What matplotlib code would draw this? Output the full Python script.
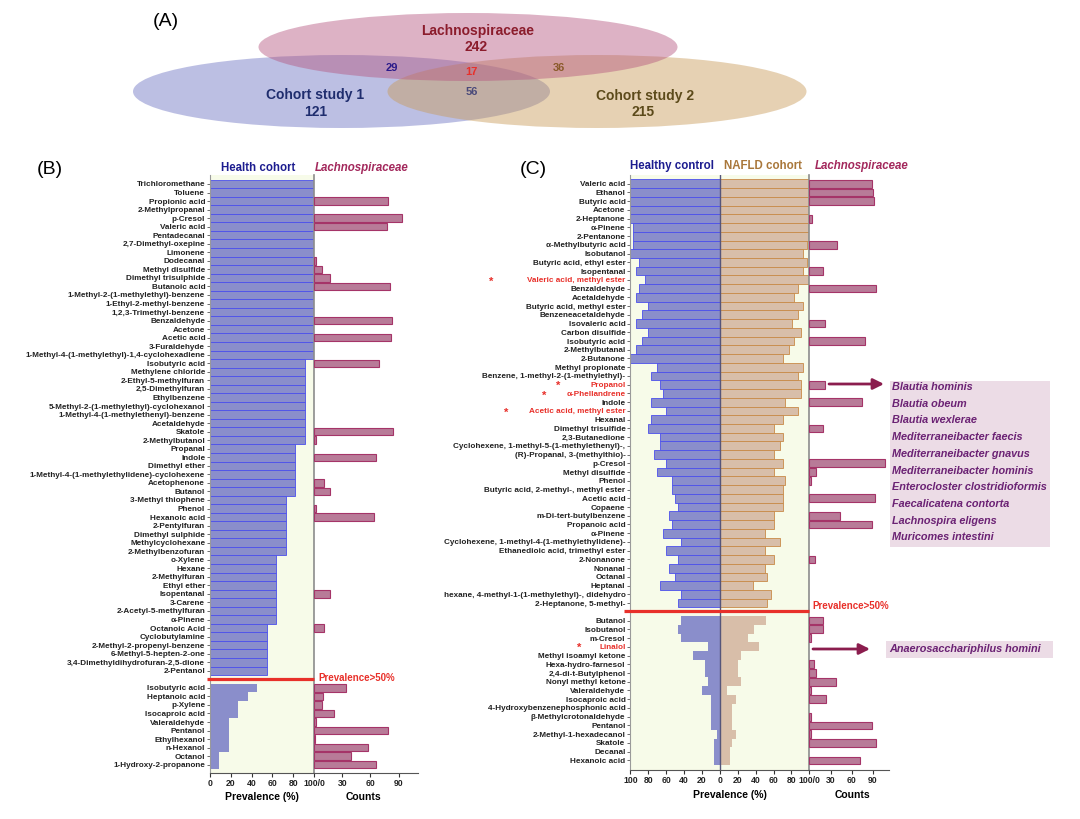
import matplotlib
matplotlib.use('Agg')
import matplotlib.pyplot as plt
from matplotlib.patches import Ellipse, Rectangle, FancyArrowPatch

plt.rcParams['font.family'] = ['Liberation Sans', 'DejaVu Sans']
plt.rcParams['font.weight'] = 'bold'

W, H = 1080, 819

# ---------------- Panel A (Venn) ----------------
venn_sets = ['Lachnospiraceae', 'Cohort study 1', 'Cohort study 2']
venn_totals = [242, 121, 215]
venn_overlaps = {'L&C1': 29, 'L&C2': 36, 'C1&C2': 56, 'all': 17}

# ---------------- Panel B ----------------
b_names_hi = ['Trichloromethane', 'Toluene', 'Propionic acid', '2-Methylpropanal', 'p-Cresol',
              'Valeric acid', 'Pentadecanal', '2,7-Dimethyl-oxepine', 'Limonene', 'Dodecanal',
              'Methyl disulfide', 'Dimethyl trisulphide', 'Butanoic acid',
              '1-Methyl-2-(1-methylethyl)-benzene', '1-Ethyl-2-methyl-benzene',
              '1,2,3-Trimethyl-benzene', 'Benzaldehyde', 'Acetone', 'Acetic acid', '3-Furaldehyde',
              '1-Methyl-4-(1-methylethyl)-1,4-cyclohexadiene', 'Isobutyric acid',
              'Methylene chloride', '2-Ethyl-5-methylfuran', '2,5-Dimethylfuran', 'Ethylbenzene',
              '5-Methyl-2-(1-methylethyl)-cyclohexanol', '1-Methyl-4-(1-methylethenyl)-benzene',
              'Acetaldehyde', 'Skatole', '2-Methylbutanol', 'Propanal', 'Indole', 'Dimethyl ether',
              '1-Methyl-4-(1-methylethylidene)-cyclohexene', 'Acetophenone', 'Butanol',
              '3-Methyl thiophene', 'Phenol', 'Hexanoic acid', '2-Pentylfuran', 'Dimethyl sulphide',
              'Methylcyclohexane', '2-Methylbenzofuran', 'o-Xylene', 'Hexane', '2-Methylfuran',
              'Ethyl ether', 'Isopentanal', '3-Carene', '2-Acetyl-5-methylfuran', 'α-Pinene',
              'Octanoic Acid', 'Cyclobutylamine', '2-Methyl-2-propenyl-benzene',
              '6-Methyl-5-hepten-2-one', '3,4-Dimethyldihydrofuran-2,5-dione', '2-Pentanol']
b_prev_hi = [100, 100, 100, 100, 100, 100, 100, 100, 100, 100, 100, 100, 100, 100, 100, 100,
             100, 100, 100, 100, 100,
             90.9, 90.9, 90.9, 90.9, 90.9, 90.9, 90.9, 90.9, 90.9, 90.9,
             81.8, 81.8, 81.8, 81.8, 81.8, 81.8,
             72.7, 72.7, 72.7, 72.7, 72.7, 72.7, 72.7,
             63.6, 63.6, 63.6, 63.6, 63.6, 63.6, 63.6, 63.6,
             54.5, 54.5, 54.5, 54.5, 54.5, 54.5]
b_cnt_hi = [0, 0, 79, 0, 94, 78, 0, 0, 0, 2, 9, 17, 81, 0, 0, 0, 83, 0, 82, 0, 0,
            69, 0, 0, 0, 0, 0, 0, 0, 84, 2, 0, 66, 0, 0, 11, 17, 0, 2, 64,
            0, 0, 0, 0, 0, 0, 0, 0, 17, 0, 0, 0, 11, 0, 0, 0, 0, 0]
b_names_lo = ['Isobutyric acid', 'Heptanoic acid', 'p-Xylene', 'Isocaproic acid', 'Valeraldehyde',
              'Pentanol', 'Ethylhexanol', 'n-Hexanol', 'Octanol', '1-Hydroxy-2-propanone']
b_prev_lo = [45.5, 36.4, 27.3, 27.3, 18.2, 18.2, 18.2, 18.2, 9.1, 9.1]
b_cnt_lo = [34, 10, 9, 21, 2, 79, 1, 57, 39, 66]

# ---------------- Panel C ----------------
c_names_hi = ['Valeric acid', 'Ethanol', 'Butyric acid', 'Acetone', '2-Heptanone', 'α-Pinene',
              '2-Pentanone', 'α-Methylbutyric acid', 'Isobutanol', 'Butyric acid, ethyl ester',
              'Isopentanal', 'Valeric acid, methyl ester', 'Benzaldehyde', 'Acetaldehyde',
              'Butyric acid, methyl ester', 'Benzeneacetaldehyde', 'Isovaleric acid',
              'Carbon disulfide', 'Isobutyric acid', '2-Methylbutanal', '2-Butanone',
              'Methyl propionate', 'Benzene, 1-methyl-2-(1-methylethyl)-', 'Propanol',
              'α-Phellandrene', 'Indole', 'Acetic acid, methyl ester', 'Hexanal',
              'Dimethyl trisulfide', '2,3-Butanedione',
              'Cyclohexene, 1-methyl-5-(1-methylethenyl)-,', '(R)-Propanal, 3-(methylthio)-',
              'p-Cresol', 'Methyl disulfide', 'Phenol', 'Butyric acid, 2-methyl-, methyl ester',
              'Acetic acid', 'Copaene', 'm-Di-tert-butylbenzene', 'Propanoic acid', 'α-Pinene',
              'Cyclohexene, 1-methyl-4-(1-methylethylidene)-', 'Ethanedioic acid, trimethyl ester',
              '2-Nonanone', 'Nonanal', 'Octanal', 'Heptanal',
              'hexane, 4-methyl-1-(1-methylethyl)-, didehydro', '2-Heptanone, 5-methyl-']
c_healthy_hi = [100, 100, 100, 100, 100, 96.7, 96.7, 96.7, 100, 90, 93.3, 83.3, 90, 93.3, 80,
                86.7, 93.3, 80, 86.7, 93.3, 100, 70, 76.7, 66.7, 63.3, 76.7, 60, 76.7, 80,
                66.7, 66.7, 73.3, 60, 70, 53.3, 53.3, 50, 46.7, 56.7, 53.3, 63.3, 43.3, 60,
                46.7, 56.7, 50, 66.7, 43.3, 46.7]
c_nafld_hi = [100, 100, 100, 100, 100, 100, 100, 97.8, 93.3, 97.8, 93.3, 100, 87.6, 83, 93.3,
              87.6, 80.9, 90.6, 83, 77.5, 70.8, 93.3, 87.6, 90.6, 90.6, 73, 87.6, 70.8, 60.3,
              70.8, 67.4, 60.3, 70.8, 60.3, 73, 70.8, 70.8, 70.8, 60.3, 60.3, 50.2, 67.4, 50.2,
              60.3, 50.2, 53.2, 37.5, 57.7, 53.2]
c_cnt_hi = [88, 90, 91, 0, 4, 0, 0, 39, 0, 0, 19, 0, 94, 0, 0, 0, 22, 0, 78, 0, 0, 0, 0, 22, 0,
            74, 0, 0, 19, 0, 0, 0, 107, 9, 2, 0, 93, 0, 44, 89, 0, 0, 0, 8, 0, 0, 0, 0, 0]
c_names_lo = ['Butanol', 'Isobutanol', 'm-Cresol', 'Linalol', 'Methyl isoamyl ketone',
              'Hexa-hydro-farnesol', '2,4-di-t-Butylphenol', 'Nonyl methyl ketone',
              'Valeraldehyde', 'Isocaproic acid', '4-Hydroxybenzenephosphonic acid',
              'β-Methylcrotonaldehyde', 'Pentanol', '2-Methyl-1-hexadecanol', 'Skatole',
              'Decanal', 'Hexanoic acid']
c_healthy_lo = [43.3, 46.7, 43.3, 13.3, 30, 16.7, 16.7, 13.3, 20, 10, 10, 10, 10, 3.3, 6.7, 6.7, 6.7]
c_nafld_lo = [51.3, 38.2, 31, 44.2, 24, 20.6, 20.6, 24, 7.9, 18, 13.9, 13.9, 13.9, 18, 13.9, 10.9, 10.9]
c_cnt_lo = [19, 20, 2, 0, 0, 7, 10, 38, 2, 24, 0, 2, 88, 2, 94, 0, 72]
c_red = ['Valeric acid, methyl ester', 'Propanol', 'α-Phellandrene', 'Acetic acid, methyl ester', 'Linalol']

species_hi = ['Blautia hominis', 'Blautia obeum', 'Blautia wexlerae', 'Mediterraneibacter faecis',
              'Mediterraneibacter gnavus', 'Mediterraneibacter hominis',
              'Enterocloster clostridioformis', 'Faecalicatena contorta', 'Lachnospira eligens',
              'Muricomes intestini']
species_lo = ['Anaerosacchariphilus homini']

# ---------------- styles ----------------
BLUE_F, BLUE_E = '#8a8ecb', '#4c50ec'
TAN_F, TAN_E = '#d8bea9', '#c88a48'
PINK_F, PINK_E = '#b87b98', '#a53468'
BG = '#f7fbe9'
RED = '#e8302a'
FS = 5.9
FSX = 6.2

fig = plt.figure(figsize=(10.8, 8.19), dpi=100)


def pax(x0, y0, x1, y1):
    return fig.add_axes([x0 / W, 1 - y1 / H, (x1 - x0) / W, (y1 - y0) / H])


def style_prev(ax):
    ax.set_facecolor(BG)
    ax.spines['top'].set_visible(False)
    ax.spines['left'].set_color('#9a9a9a')
    ax.spines['right'].set_color('#8c8c8c')
    ax.spines['right'].set_linewidth(1.2)
    ax.spines['bottom'].set_color('#555555')
    ax.tick_params(axis='x', length=3, width=0.8, labelsize=FSX, pad=1.5, colors='#333333',
                   labelcolor='#222222')
    ax.tick_params(axis='y', length=2.5, width=0.6, labelsize=FS, pad=1, colors='#555555',
                   labelcolor='#222222')


def style_cnt(ax):
    for s in ['top', 'left', 'right']:
        ax.spines[s].set_visible(False)
    ax.spines['bottom'].set_color('#555555')
    ax.set_facecolor('none')
    ax.tick_params(axis='x', length=3, width=0.8, labelsize=FSX, pad=1.5, colors='#333333',
                   labelcolor='#222222')
    ax.set_yticks([])


# ---------------- Panel B axes ----------------
yb_hi = list(range(len(b_names_hi)))
yb_lo = list(range(len(b_names_hi) + 1, len(b_names_hi) + 1 + len(b_names_lo)))
axBp = pax(210, 175, 314, 773)
axBc = pax(314, 175, 418, 773)
axBp.barh(yb_hi, b_prev_hi, height=1.0, color=BLUE_F, edgecolor=BLUE_E, linewidth=0.6)
axBp.barh(yb_lo, b_prev_lo, height=1.0, color=BLUE_F, edgecolor='none')
style_prev(axBp)
axBp.set_xlim(0, 100)
ylim_b = (68.97, -1.05)
axBp.set_ylim(*ylim_b)
axBp.set_yticks(yb_hi + yb_lo)
axBp.set_yticklabels(b_names_hi + b_names_lo)
axBp.set_xticks([0, 20, 40, 60, 80, 100])
axBp.set_xticklabels(['0', '20', '40', '60', '80', '100/0'])

cb = [(y, v) for y, v in zip(yb_hi + yb_lo, b_cnt_hi + b_cnt_lo) if v > 0]
axBc.barh([c[0] for c in cb], [c[1] for c in cb], height=0.88, color=PINK_F,
          edgecolor=PINK_E, linewidth=0.8)
style_cnt(axBc)
axBc.set_xlim(0, 110.6)
axBc.set_ylim(*ylim_b)
axBc.set_xticks([30, 60, 90])

# ---------------- Panel C axes ----------------
yc_hi = list(range(len(c_names_hi)))
yc_lo = list(range(len(c_names_hi) + 1, len(c_names_hi) + 1 + len(c_names_lo)))
axCp = pax(630.3, 175, 809.3, 770)
axCc = pax(809.3, 175, 889.3, 770)
axCp.barh(yc_hi, [-v for v in c_healthy_hi], height=1.0, color=BLUE_F, edgecolor=BLUE_E,
          linewidth=0.6)
axCp.barh(yc_lo, [-v for v in c_healthy_lo], height=1.0, color=BLUE_F, edgecolor='none')
axCp.barh(yc_hi, c_nafld_hi, height=1.0, color=TAN_F, edgecolor=TAN_E, linewidth=0.6)
axCp.barh(yc_lo, c_nafld_lo, height=1.0, color=TAN_F, edgecolor='none')
axCp.axvline(0, color='#55557a', lw=1.0)
style_prev(axCp)
axCp.set_xlim(-100, 100)
ylim_c = (67.1, -1.0)
axCp.set_ylim(*ylim_c)
axCp.set_yticks(yc_hi + yc_lo)
axCp.set_yticklabels(c_names_hi + c_names_lo)
for t in axCp.get_yticklabels():
    if t.get_text() in c_red:
        t.set_color(RED)
axCp.set_xticks([-100, -80, -60, -40, -20, 0, 20, 40, 60, 80, 100])
axCp.set_xticklabels(['100', '80', '60', '40', '20', '0', '20', '40', '60', '80', '100/0'])

cc = [(y, v) for y, v in zip(yc_hi + yc_lo, c_cnt_hi + c_cnt_lo) if v > 0]
axCc.barh([c[0] for c in cc], [c[1] for c in cc], height=0.88, color=PINK_F,
          edgecolor=PINK_E, linewidth=0.8)
style_cnt(axCc)
axCc.set_xlim(0, 113)
axCc.set_ylim(*ylim_c)
axCc.set_xticks([30, 60, 90])

# ---------------- overlay ----------------
ov = fig.add_axes([0, 0, 1, 1])
ov.set_xlim(0, W)
ov.set_ylim(H, 0)
ov.axis('off')
ov.patch.set_alpha(0)

# Venn
ov.add_patch(Ellipse((341.5, 91.5), 417, 73, facecolor='#7b80c8', alpha=0.5, lw=0))
ov.add_patch(Ellipse((597, 91.5), 419, 73, facecolor='#c89a58', alpha=0.45, lw=0))
ov.add_patch(Ellipse((468, 47), 419, 68, facecolor='#b5557f', alpha=0.45, lw=0))
ov.text(166, 21, '(A)', fontsize=14, fontweight='normal', ha='center', va='center')
ov.text(478, 31, venn_sets[0], fontsize=10, color='#8b1c2c', ha='center', va='center')
ov.text(476, 47, str(venn_totals[0]), fontsize=10, color='#8b1c2c', ha='center', va='center')
ov.text(315, 95, venn_sets[1], fontsize=10, color='#1f2d6e', ha='center', va='center')
ov.text(316, 112, str(venn_totals[1]), fontsize=10, color='#1f2d6e', ha='center', va='center')
ov.text(645, 96, venn_sets[2], fontsize=10, color='#5c4a1a', ha='center', va='center')
ov.text(643, 112, str(venn_totals[2]), fontsize=10, color='#5c4a1a', ha='center', va='center')
ov.text(392, 68, str(venn_overlaps['L&C1']), fontsize=8, color='#2a1a8a', ha='center', va='center')
ov.text(559, 68, str(venn_overlaps['L&C2']), fontsize=8, color='#8a5a2a', ha='center', va='center')
ov.text(472, 92, str(venn_overlaps['C1&C2']), fontsize=8, color='#4a4a7a', ha='center', va='center')
ov.text(471, 72, str(venn_overlaps['all']), fontsize=8, color=RED, ha='center', va='center')

# panel labels and headers
ov.text(50, 169, '(B)', fontsize=14, fontweight='normal', ha='center', va='center')
ov.text(533, 170, '(C)', fontsize=14, fontweight='normal', ha='center', va='center')
ov.text(258, 168, 'Health cohort', fontsize=8.3, color='#1c1c8f', ha='center', va='center')
ov.text(362, 168, 'Lachnospiraceae', fontsize=8.3, color='#a3285c', style='italic',
        ha='center', va='center')
ov.text(672, 166, 'Healthy control', fontsize=8.3, color='#1c1c8f', ha='center', va='center')
ov.text(763, 166, 'NAFLD cohort', fontsize=8.3, color='#a9773a', ha='center', va='center')
ov.text(862, 166, 'Lachnospiraceae', fontsize=8.3, color='#a3285c', style='italic',
        ha='center', va='center')

# axis titles
ov.text(262, 797, 'Prevalence (%)', fontsize=7.5, ha='center', va='center')
ov.text(363, 797, 'Counts', fontsize=7.5, ha='center', va='center')
ov.text(730, 795, 'Prevalence (%)', fontsize=7.5, ha='center', va='center')
ov.text(852, 795, 'Counts', fontsize=7.5, ha='center', va='center')

# prevalence thresholds
ov.plot([207, 314], [679, 679], color=RED, lw=2.3, solid_capstyle='butt')
ov.text(318, 678, 'Prevalence>50%', fontsize=7, color=RED, ha='left', va='center')
ov.plot([624, 809], [610.5, 610.5], color=RED, lw=2.3, solid_capstyle='butt')
ov.text(812, 606, 'Prevalence>50%', fontsize=7, color=RED, ha='left', va='center')

# asterisks
for (x, y) in [(491, 280), (558, 384), (544, 394), (506, 411), (579, 645.5)]:
    ov.text(x, y + 2, '*', fontsize=8, color=RED, ha='center', va='center')

# species boxes + arrows
ov.add_patch(Rectangle((890, 381), 160, 166, facecolor='#ecdce6', edgecolor='none'))
for k, s in enumerate(species_hi):
    ov.text(892, 387 + 16.7 * k, s, fontsize=7.8, style='italic', color='#6b2274',
            ha='left', va='center')
ov.add_patch(Rectangle((886, 641), 167, 17, facecolor='#ecdce6', edgecolor='none'))
ov.text(889, 649, species_lo[0], fontsize=7.8, style='italic', color='#6b2274',
        ha='left', va='center')
for (x0, x1, y) in [(829, 884, 384), (813, 870, 649)]:
    ov.add_patch(FancyArrowPatch((x0, y), (x1, y), arrowstyle='-|>', mutation_scale=16,
                                 color='#8b1d4e', lw=2.0, shrinkA=0, shrinkB=0))

fig.savefig('out.png', dpi=100)
